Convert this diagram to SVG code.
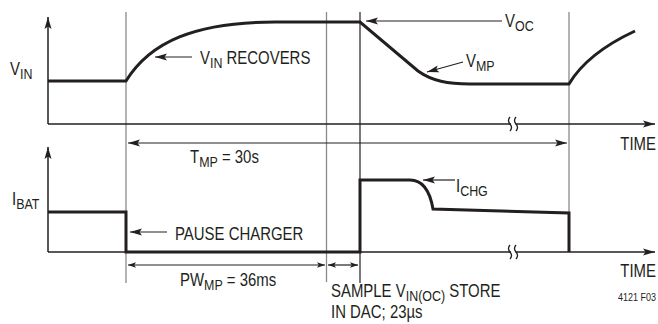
<svg xmlns="http://www.w3.org/2000/svg" width="658" height="324" viewBox="0 0 658 324">
<style>
.t{font-family:"Liberation Sans",Arial,sans-serif;font-size:18px;fill:#231f20}
.s{font-size:15px}
.ax{stroke:#231f20;stroke-width:1.5;fill:none}
.g{stroke:#8a8a8a;stroke-width:1.3;fill:none}
.gk{stroke:#231f20;stroke-width:1.2;fill:none}
.w{stroke:#231f20;stroke-width:3;fill:none;stroke-linejoin:miter}
.la{stroke:#231f20;stroke-width:1.2;fill:none}
.br{stroke:#231f20;stroke-width:1.3;fill:none}
</style>
<defs>
<marker id="ah" markerUnits="userSpaceOnUse" markerWidth="13" markerHeight="9" refX="12" refY="4" orient="auto-start-reverse" viewBox="0 0 13 9">
<path d="M0,0.5 L12,4 L0,7.5 L2.5,4 Z" fill="#231f20"/>
</marker>
<marker id="sh" markerUnits="userSpaceOnUse" markerWidth="9" markerHeight="7" refX="8" refY="3" orient="auto-start-reverse" viewBox="0 0 9 7">
<path d="M0,0.3 L8,3 L0,5.7 L1.8,3 Z" fill="#231f20"/>
</marker>
</defs>

<g id="guides">
<line class="g" x1="126" y1="12" x2="126" y2="283"/>
<line class="g" x1="326.5" y1="12" x2="326.5" y2="282"/>
<line class="gk" x1="360" y1="12" x2="360" y2="283"/>
<line class="g" x1="569" y1="12" x2="569" y2="252"/>
</g>

<g id="axes">
<path class="ax" d="M48,124 V17" marker-end="url(#ah)"/>
<path class="ax" d="M48,124 H655" marker-end="url(#ah)"/>
<path class="ax" d="M48,252 V147" marker-end="url(#ah)"/>
<path class="ax" d="M48,252 H655" marker-end="url(#ah)"/>
<rect x="511" y="121" width="4.5" height="6" fill="#fff"/>
<rect x="511" y="249" width="4.5" height="6" fill="#fff"/>
<path class="br" d="M510,117 q-3,3.5 0,7 q3,3.5 0,7 M516,117 q-3,3.5 0,7 q3,3.5 0,7"/>
<path class="br" d="M510,245 q-3,3.5 0,7 q3,3.5 0,7 M516,245 q-3,3.5 0,7 q3,3.5 0,7"/>
</g>

<g id="vin-wave">
<path class="w" d="M48,81 H126 C150,42 195,22 275,22 H360 L418,71 C432,81 448,84 470,84 H569 C582,62 605,45 635,31"/>
</g>

<g id="ibat-wave">
<path class="w" d="M48,212 H126 V252 H360 V180 H410 Q428,180 433,209 L569,213 V252"/>
</g>

<g id="connectors">
<path class="la" d="M128,143 H567" marker-start="url(#ah)" marker-end="url(#ah)"/>
<path class="la" d="M128,265 H325" marker-start="url(#sh)" marker-end="url(#sh)"/>
<path class="la" d="M328,265 H358" marker-start="url(#sh)" marker-end="url(#sh)"/>
<path class="la" d="M192,57 H155" marker-end="url(#ah)"/>
<path class="la" d="M502,21 H366" marker-end="url(#ah)"/>
<path class="la" d="M463,62 L427,72" marker-end="url(#ah)"/>
<path class="la" d="M167,232 H130" marker-end="url(#ah)"/>
<path class="la" d="M455,180 H423" marker-end="url(#ah)"/>
</g>

<g id="labels">
<text class="t" transform="translate(10,75) scale(0.83,1)">V<tspan class="s" dy="4">IN</tspan></text>
<text class="t" transform="translate(200,64) scale(0.83,1)">V<tspan class="s" dy="4">IN</tspan><tspan dy="-4"> RECOVERS</tspan></text>
<text class="t" transform="translate(190,163) scale(0.83,1)">T<tspan class="s" dy="4">MP</tspan><tspan dy="-4"> = 30s</tspan></text>
<text class="t" transform="translate(505,27) scale(0.83,1)">V<tspan class="s" dy="4">OC</tspan></text>
<text class="t" transform="translate(466,67) scale(0.83,1)">V<tspan class="s" dy="4">MP</tspan></text>
<text class="t" text-anchor="end" transform="translate(656,150) scale(0.83,1)">TIME</text>
<text class="t" transform="translate(12,205) scale(0.83,1)">I<tspan class="s" dy="4">BAT</tspan></text>
<text class="t" transform="translate(175,240) scale(0.83,1)">PAUSE CHARGER</text>
<text class="t" transform="translate(456,192) scale(0.83,1)">I<tspan class="s" dy="4">CHG</tspan></text>
<text class="t" transform="translate(180,286) scale(0.83,1)">PW<tspan class="s" dy="4">MP</tspan><tspan dy="-4"> = 36ms</tspan></text>
<text class="t" text-anchor="end" transform="translate(656,277) scale(0.83,1)">TIME</text>
<text class="t" transform="translate(331,297) scale(0.83,1)">SAMPLE V<tspan class="s" dy="3.5">IN(OC)</tspan><tspan dy="-3.5"> STORE</tspan></text>
<text class="t" transform="translate(331,318) scale(0.83,1)">IN DAC; 23µs</text>
<text class="t" text-anchor="end" style="font-size:10px" transform="translate(656,301) scale(0.9,1)">4121 F03</text>
</g>
</svg>
